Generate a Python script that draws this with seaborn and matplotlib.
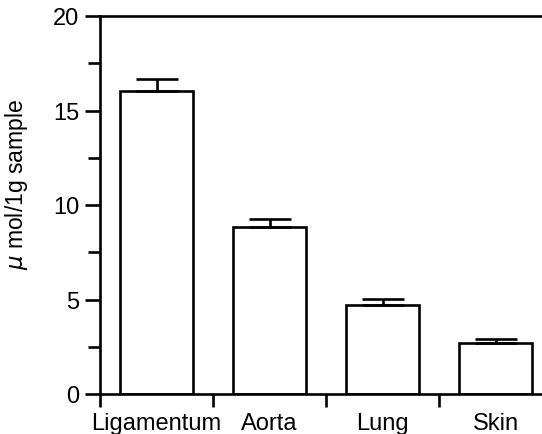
import matplotlib
matplotlib.use("Agg")
import matplotlib.pyplot as plt
import seaborn as sns
import pandas as pd
from matplotlib.ticker import MultipleLocator, FixedLocator

categories = ["Ligamentum", "Aorta", "Lung", "Skin"]
values = [16.05, 8.85, 4.72, 2.70]
errors = [0.6, 0.42, 0.32, 0.19]
y_ticks = [0, 5, 10, 15, 20]

sns.set_theme(style="ticks")
plt.rcParams['font.family'] = ['Liberation Sans', 'DejaVu Sans']
plt.rcParams['text.color'] = 'black'
plt.rcParams['xtick.color'] = 'black'
plt.rcParams['ytick.color'] = 'black'
plt.rcParams['axes.labelcolor'] = 'black'

df = pd.DataFrame({"cat": categories, "val": values, "err": errors})

fig = plt.figure(figsize=(5.42, 4.35), dpi=100)
ax = fig.add_axes([100/542, 1 - 395/435, 1 - 100/542, (395 - 17)/435])

lw = 1.9
sns.barplot(data=df, x="cat", y="val", order=categories, width=0.64,
            color="white", edgecolor="black", linewidth=lw, errorbar=None, ax=ax)
for p in ax.patches:
    p.set_facecolor("white")

xpos = list(range(len(categories)))
ax.errorbar(xpos, values, yerr=[[0]*len(errors), errors], fmt="none",
            ecolor="black", elinewidth=lw, capsize=15, capthick=lw, zorder=1)

ax.set_ylim(0, 20)
ax.set_xlim(-0.5, -0.5 + 442/113)
ax.yaxis.set_major_locator(FixedLocator(y_ticks))
ax.yaxis.set_minor_locator(MultipleLocator(2.5))
ax.set_yticklabels([str(t) for t in y_ticks], fontsize=17)

ax.xaxis.set_major_locator(FixedLocator([-0.5, 0.5, 1.5, 2.5]))
ax.xaxis.set_major_formatter(plt.NullFormatter())
ax.xaxis.set_minor_locator(FixedLocator(xpos))
ax.set_xticklabels(categories, minor=True, fontsize=17)
ax.tick_params(axis="x", which="major", length=9.5, width=lw, direction="out")
ax.tick_params(axis="x", which="minor", length=0, pad=13)
ax.tick_params(axis="y", which="major", length=11, width=lw, pad=4)
ax.tick_params(axis="y", which="minor", length=8.6, width=lw)

ax.set_xlabel("")
ax.set_ylabel(r"$\mu$ mol/1g sample", fontsize=16.5)
ax.yaxis.set_label_coords(-0.158, 0.556)

for s in ["left", "bottom", "top"]:
    ax.spines[s].set_linewidth(lw)
    ax.spines[s].set_color("black")
ax.spines["right"].set_visible(False)
ax.set_facecolor("white")
fig.patch.set_facecolor("white")

fig.savefig("out.png", dpi=100, facecolor="white")
